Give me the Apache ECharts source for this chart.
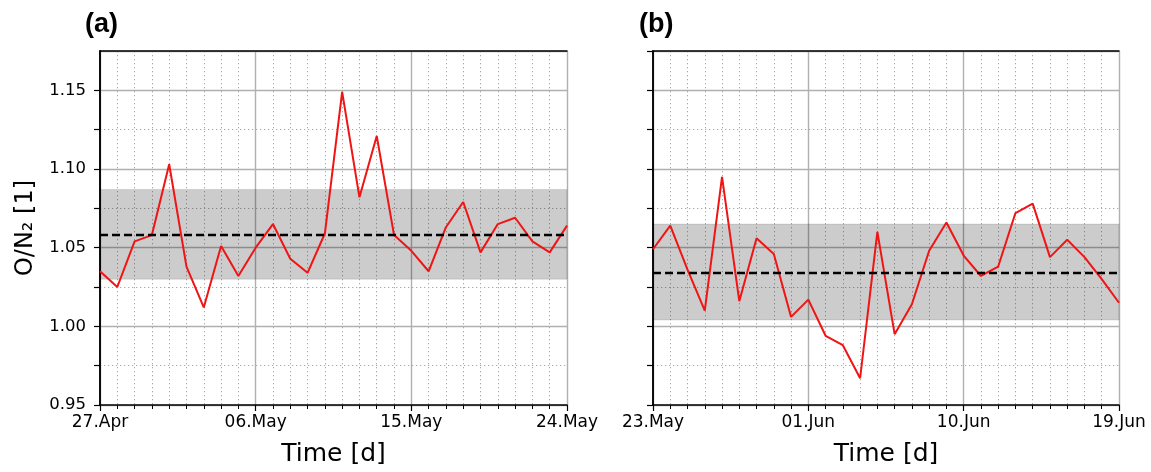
<!DOCTYPE html>
<html>
<head>
<meta charset="utf-8">
<script src="https://cdn.jsdelivr.net/npm/echarts@6/dist/echarts.min.js"></script>
<style>
  html, body { margin: 0; padding: 0; background: #fff; }
  #chart { width: 1151px; height: 472px; }
</style>
</head>
<body>
<div id="chart"></div>
<script>
// Daily O/N2 ratio for two 27-day windows (day 0 = first date label)
const labelsA = ['27.Apr', '06.May', '15.May', '24.May'];
const labelsB = ['23.May', '01.Jun', '10.Jun', '19.Jun'];

const ratioA = [1.035, 1.025, 1.054, 1.058, 1.103, 1.038, 1.012, 1.051, 1.032, 1.050,
                1.065, 1.043, 1.034, 1.059, 1.149, 1.082, 1.121, 1.058, 1.048, 1.035,
                1.063, 1.079, 1.047, 1.065, 1.069, 1.054, 1.047, 1.064];
const ratioB = [1.049, 1.064, 1.036, 1.010, 1.095, 1.016, 1.056, 1.046, 1.006, 1.017,
                0.994, 0.988, 0.967, 1.060, 0.995, 1.014, 1.048, 1.066, 1.045, 1.032,
                1.038, 1.072, 1.078, 1.044, 1.055, 1.044, 1.030, 1.015];

// mean and +/- one standard deviation band
const meanA = 1.058, bandA = [1.030, 1.087];
const meanB = 1.034, bandB = [1.004, 1.065];

const panelTitles = ['(a)', '(b)'];
const yTitle = 'O/N\u2082 [1]';
const xTitle = 'Time [d]';

const Y_MIN = 0.95, Y_MAX = 1.175;
const DAYS = 27, MAJOR_DAYS = 9;

const FONT = 'DejaVu Sans';
const majorGrid = { color: '#b0b0b0', width: 1.4, type: 'solid' };
const minorGrid = { color: '#a9a9a9', width: 1, type: [1.3, 2.7] };

const grids = [
  { left: 100, right: 584, top: 51, bottom: 66 },
  { left: 653, right: 32, top: 51, bottom: 66 }
];

function isMajor(v) { return Math.abs(v * 20 - Math.round(v * 20)) < 1e-6; }

const xAxes = [], yAxes = [], series = [];
[[labelsA, ratioA, meanA, bandA], [labelsB, ratioB, meanB, bandB]].forEach(([labels, vals, mean, band], g) => {
  // bottom time axis with daily minor ticks
  xAxes.push({
    type: 'value', gridIndex: g, min: 0, max: DAYS, interval: MAJOR_DAYS, position: 'bottom',
    axisLine: { show: true, lineStyle: { color: '#000', width: 1.5 } },
    axisTick: { show: true, length: 6, lineStyle: { color: '#000', width: 1.2 } },
    minorTick: { show: true, splitNumber: MAJOR_DAYS, length: 4, lineStyle: { color: '#000', width: 1 } },
    splitLine: { show: true, lineStyle: majorGrid },
    minorSplitLine: { show: true, lineStyle: minorGrid },
    axisLabel: {
      margin: 9, color: '#000', fontFamily: FONT, fontSize: 17,
      formatter: v => labels[Math.round(v / MAJOR_DAYS)] || ''
    },
    name: xTitle, nameLocation: 'middle', nameGap: 37,
    nameTextStyle: { color: '#000', fontFamily: FONT, fontSize: 25 }
  });
  // top frame edge
  xAxes.push({
    type: 'value', gridIndex: g, min: 0, max: DAYS, position: 'top',
    axisLine: { show: true, lineStyle: { color: '#000', width: 1.5 } },
    axisTick: { show: false }, axisLabel: { show: false }, splitLine: { show: false }
  });
  // left axis: ticks every 0.025, labels every 0.05, dotted minor grid
  yAxes.push({
    type: 'value', gridIndex: g, min: Y_MIN, max: Y_MAX, interval: 0.025, position: 'left',
    axisLine: { show: true, lineStyle: { color: '#000', width: 1.5 } },
    axisTick: { show: true, length: 6, lineStyle: { color: '#000', width: 1.2 } },
    splitLine: { show: true, lineStyle: minorGrid },
    axisLabel: {
      show: g === 0, margin: 14, color: '#000', fontFamily: FONT, fontSize: 16.5,
      showMaxLabel: false,
      formatter: v => isMajor(v) ? v.toFixed(2) : ''
    },
    name: g === 0 ? yTitle : '', nameLocation: 'middle', nameGap: 62,
    nameTextStyle: { color: '#000', fontFamily: FONT, fontSize: 24 }
  });
  // right frame edge carrying the solid 0.05 grid
  yAxes.push({
    type: 'value', gridIndex: g, min: Y_MIN, max: Y_MAX, interval: 0.05, position: 'right',
    axisLine: { show: true, lineStyle: { color: '#000', width: 1.5 } },
    axisTick: { show: false }, axisLabel: { show: false },
    splitLine: { show: true, lineStyle: majorGrid }
  });

  series.push({
    type: 'line', xAxisIndex: 2 * g, yAxisIndex: 2 * g,
    data: vals.map((v, i) => [i, v]),
    symbol: 'none', silent: true,
    lineStyle: { color: '#f01414', width: 2 },
    z: 3,
    markArea: {
      silent: true,
      itemStyle: { color: 'rgba(0,0,0,0.2)', borderColor: 'rgba(0,0,0,0.1)', borderWidth: 1 },
      data: [[{ yAxis: band[0] }, { yAxis: band[1] }]]
    },
    markLine: {
      silent: true, symbol: 'none', precision: 4,
      label: { show: false },
      lineStyle: { color: '#000', width: 2.3, type: [8, 4] },
      data: [{ yAxis: mean }]
    }
  });
});

const chart = echarts.init(document.getElementById('chart'), null, { renderer: 'canvas' });
chart.setOption({
  animation: false,
  backgroundColor: '#fff',
  title: [
    { text: panelTitles[0], left: 80, top: 6, textStyle: { fontFamily: 'Liberation Sans', fontWeight: 'bold', fontSize: 27, color: '#000' } },
    { text: panelTitles[1], left: 634, top: 6, textStyle: { fontFamily: 'Liberation Sans', fontWeight: 'bold', fontSize: 27, color: '#000' } }
  ],
  grid: grids,
  xAxis: xAxes,
  yAxis: yAxes,
  series: series
});
</script>
</body>
</html>
